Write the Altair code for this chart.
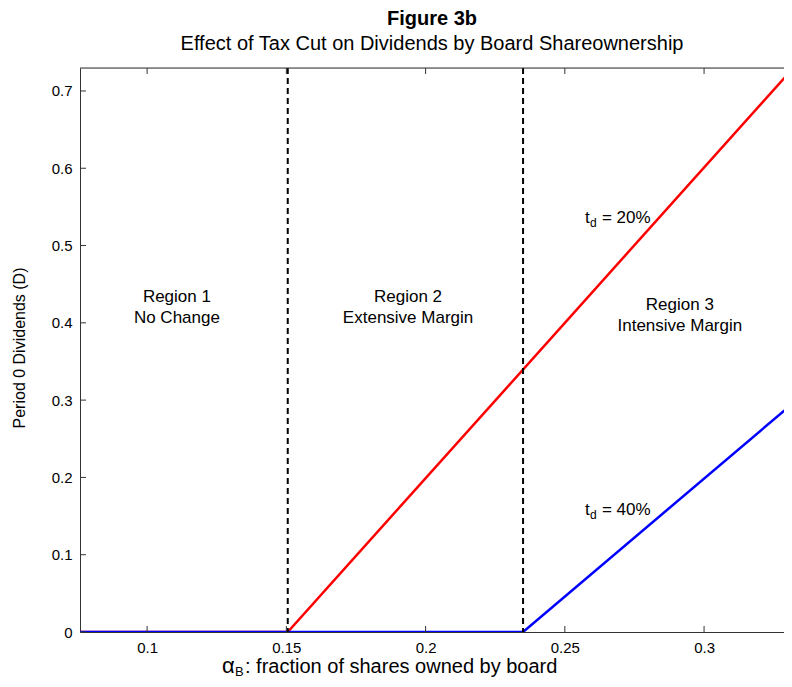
import altair as alt
import pandas as pd

# ---- data ----
x_min, x_max = 0.0759, 0.3287
y_min, y_max = 0.0, 0.7297

red_x = [0.0759, 0.1505, 0.3321]   # t_d = 20%
red_y = [0.0, 0.0, 0.730]
blue_x = [0.0759, 0.2350, 0.3316]  # t_d = 40%
blue_y = [0.0, 0.0, 0.295]

thresholds = [0.1505, 0.2350]

region_text = ["Region 1\nNo Change", "Region 2\nExtensive Margin", "Region 3\nIntensive Margin"]
region_x = [0.1107, 0.1937, 0.2913]
region_y = [0.4328, 0.4328, 0.4231]

td_label = ["= 20%", "= 40%"]
td_x = [0.2572, 0.2572]
td_y = [0.5356, 0.1578]

x_ticks = [0.1, 0.15, 0.2, 0.25, 0.3]
y_ticks = [0.0, 0.1, 0.2, 0.3, 0.4, 0.5, 0.6, 0.7]

W, H = 704, 564
FONT = "Liberation Sans"
EDGE = "#333333"

xs = alt.Scale(domain=[x_min, x_max], nice=False, zero=False)
ys = alt.Scale(domain=[y_min, y_max], nice=False, zero=False)

x_axis = alt.Axis(values=x_ticks, format="~g", ticks=False, grid=False, title=None,
                  labelFontSize=15, labelPadding=8, domainColor=EDGE, labelColor="black",
                  labelFont=FONT)
y_axis = alt.Axis(values=y_ticks, format="~g", ticks=False, grid=False, title=None,
                  labelFontSize=15, labelPadding=8, domainColor=EDGE, labelColor="black",
                  labelFont=FONT)

red_df = pd.DataFrame({"x": red_x, "y": red_y})
blue_df = pd.DataFrame({"x": blue_x, "y": blue_y})

red = alt.Chart(red_df).mark_line(color="#FF0000", strokeWidth=2.5, clip=True).encode(
    x=alt.X("x:Q", scale=xs, axis=x_axis), y=alt.Y("y:Q", scale=ys, axis=y_axis))
blue = alt.Chart(blue_df).mark_line(color="#0000FF", strokeWidth=2.5, clip=True).encode(
    x=alt.X("x:Q", scale=xs), y=alt.Y("y:Q", scale=ys))

vlines = alt.Chart(pd.DataFrame({"x": thresholds})).mark_rule(
    color="black", strokeWidth=2, strokeDash=[6, 4]).encode(x=alt.X("x:Q", scale=xs))

regions = alt.Chart(pd.DataFrame({"t": region_text, "x": region_x, "y": region_y})).mark_text(
    fontSize=17, font=FONT, color="black", align="center", baseline="middle", lineBreak="\n",
    lineHeight=21).encode(x=alt.X("x:Q", scale=xs), y=alt.Y("y:Q", scale=ys), text="t:N")

td_df = pd.DataFrame({"t": td_label, "x": td_x, "y": td_y, "s": ["t", "t"], "sub": ["d", "d"]})
td_t = alt.Chart(td_df).mark_text(fontSize=17, font=FONT, align="left", baseline="middle",
                                  color="black").encode(
    x=alt.X("x:Q", scale=xs), y=alt.Y("y:Q", scale=ys), text="s:N")
td_d = alt.Chart(td_df).mark_text(fontSize=12, font=FONT, align="left", baseline="middle",
                                  dx=5, dy=5, color="black").encode(
    x=alt.X("x:Q", scale=xs), y=alt.Y("y:Q", scale=ys), text="sub:N")
td_rest = alt.Chart(td_df).mark_text(fontSize=17, font=FONT, align="left", baseline="middle",
                                     dx=17, color="black").encode(
    x=alt.X("x:Q", scale=xs), y=alt.Y("y:Q", scale=ys), text="t:N")

# top border of the axes box (the right side lies outside the picture)
top_border = alt.Chart(pd.DataFrame({"b": [0]})).mark_rule(color=EDGE, strokeWidth=1).encode(
    x=alt.value(0), x2=alt.value(W), y=alt.value(0))

# inward ticks (MATLAB style)
xt = pd.DataFrame({"v": x_ticks})
yt = pd.DataFrame({"v": y_ticks})
xt_bot = alt.Chart(xt).mark_rule(color=EDGE, strokeWidth=1).encode(
    x=alt.X("v:Q", scale=xs), y=alt.value(H), y2=alt.value(H - 6))
xt_top = alt.Chart(xt).mark_rule(color=EDGE, strokeWidth=1).encode(
    x=alt.X("v:Q", scale=xs), y=alt.value(0), y2=alt.value(6))
yt_left = alt.Chart(yt).mark_rule(color=EDGE, strokeWidth=1).encode(
    y=alt.Y("v:Q", scale=ys), x=alt.value(0), x2=alt.value(6))


def label(text, x, y, size, weight="normal", angle=0, align="center", baseline="middle"):
    return alt.Chart(pd.DataFrame({"t": [text]})).mark_text(
        fontSize=size, font=FONT, fontWeight=weight, angle=angle, align=align,
        baseline=baseline, color="black").encode(x=alt.value(x), y=alt.value(y), text="t:N")


title1 = label("Figure 3b", 352, -49, 20, weight="bold")
title2 = label("Effect of Tax Cut on Dividends by Board Shareownership", 352, -24, 20)
ytitle = label("Period 0 Dividends (D)", -60, H / 2 - 2, 16, angle=270)
xt_alpha = label("α", 142, H + 41, 22, align="left", baseline="alphabetic")
xt_B = label("B", 155, H + 44, 13, align="left", baseline="alphabetic")
xt_rest = label(": fraction of shares owned by board", 165, H + 41, 20, align="left",
                baseline="alphabetic")

chart = alt.layer(
    red, blue, vlines, regions, td_t, td_d, td_rest,
    top_border, xt_bot, xt_top, yt_left,
    title1, title2, ytitle, xt_alpha, xt_B, xt_rest,
).properties(
    width=W, height=H,
    autosize=alt.AutoSizeParams(type="none"),
    padding={"left": 72, "top": 60, "right": 0, "bottom": 47},
).configure_view(strokeWidth=0).configure(background="white")

chart.save("out.html", embed_options={"renderer": "svg", "actions": False})
